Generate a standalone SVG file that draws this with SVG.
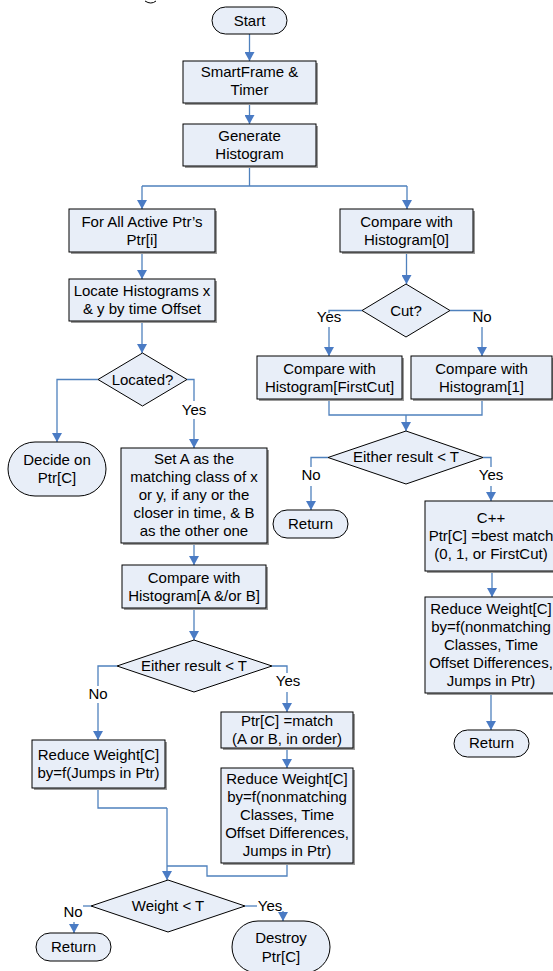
<svg xmlns="http://www.w3.org/2000/svg" width="553" height="971" viewBox="0 0 553 971">
<style>
.b{fill:#e8eef8;stroke:#000;stroke-width:1}
.s{fill:#9a9a9a;stroke:none}
.c{fill:none;stroke:#4f81bd;stroke-width:1.3}
.a{marker-end:url(#ah)}
text{font-family:"Liberation Sans",Arial,sans-serif;font-size:15px;fill:#000;text-anchor:middle}
</style>
<defs>
<marker id="ah" markerUnits="userSpaceOnUse" markerWidth="10" markerHeight="10" refX="9" refY="5" orient="auto">
<path d="M0,0 L9,5 L0,10 z" fill="#4a7bc4"/>
</marker>
</defs>
<rect width="553" height="971" fill="#fff"/>
<path d="M145,1 Q151,5 156,1" fill="none" stroke="#000" stroke-width="1"/>

<g id="connectors">
<path class="c a" d="M249.5,34 V61"/>
<path class="c a" d="M249.5,103 V124"/>
<path class="c" d="M249.5,166 V186 M142,186 H407"/>
<path class="c a" d="M142,186 V209"/>
<path class="c a" d="M407,186 V209"/>
<path class="c a" d="M142,252 V279"/>
<path class="c a" d="M142,321 V353"/>
<path class="c a" d="M98,379.5 H57 V442"/>
<path class="c" d="M187,379.5 H194 V401"/>
<path class="c a" d="M194,419 V448"/>
<path class="c a" d="M194,543 V565"/>
<path class="c a" d="M194,608 V640"/>
<path class="c" d="M117,666 H98 V686"/>
<path class="c a" d="M98,703 V740"/>
<path class="c" d="M272,666 H287 V673"/>
<path class="c a" d="M287,692 V712"/>
<path class="c a" d="M287,748 V768"/>
<path class="c" d="M98,788 V808 H167"/>
<path class="c a" d="M167,808 V880"/>
<path class="c" d="M287,863 V876 H207 V866 H167"/>
<path class="c" d="M91,906 H83"/>
<path class="c a" d="M74,922 V933"/>
<path class="c" d="M245,906 H257"/>
<path class="c a" d="M283,911 V921"/>
<path class="c a" d="M406.5,252 V284"/>
<path class="c" d="M362,310.5 H329 V313"/>
<path class="c a" d="M329,327 V356"/>
<path class="c" d="M450,310.5 H482 V313"/>
<path class="c a" d="M482,327 V356"/>
<path class="c" d="M329,399 V415 H482 V399"/>
<path class="c a" d="M406,415 V431"/>
<path class="c" d="M328,457.5 H311 V467"/>
<path class="c a" d="M311,486 V510"/>
<path class="c" d="M483,457.5 H491 V467"/>
<path class="c a" d="M491,486 V501"/>
<path class="c a" d="M492,571 V597"/>
<path class="c a" d="M491,693 V730"/>
<text x="194" y="415">Yes</text>
<text x="98" y="699">No</text>
<text x="288" y="686">Yes</text>
<text x="73" y="917">No</text>
<text x="270" y="911">Yes</text>
<text x="329" y="322">Yes</text>
<text x="482" y="322">No</text>
<text x="311" y="480">No</text>
<text x="491" y="480">Yes</text>
</g>

<g id="start">
<rect class="b" x="212" y="7" width="75" height="27" rx="13.5"/>
<text x="249.5" y="26">Start</text>
</g>
<g id="smartframe">
<rect class="s" x="185" y="63" width="133" height="42"/>
<rect class="b" x="183" y="61" width="133" height="42"/>
<text x="249.5" y="77">SmartFrame &amp;</text>
<text x="249.5" y="95">Timer</text>
</g>
<g id="generate">
<rect class="s" x="185" y="126" width="133" height="42"/>
<rect class="b" x="183" y="124" width="133" height="42"/>
<text x="249.5" y="141">Generate</text>
<text x="249.5" y="159">Histogram</text>
</g>
<g id="forall">
<rect class="s" x="71" y="211" width="146" height="43"/>
<rect class="b" x="69" y="209" width="146" height="43"/>
<text x="142" y="226.5">For All Active Ptr’s</text>
<text x="142" y="244.5">Ptr[i]</text>
</g>
<g id="locate">
<rect class="s" x="71" y="281" width="146" height="42"/>
<rect class="b" x="69" y="279" width="146" height="42"/>
<text x="142" y="296">Locate Histograms x</text>
<text x="142" y="314">&amp; y by time Offset</text>
</g>
<g id="located">
<polygon class="b" points="142.5,353 187,379.5 142.5,406 98,379.5"/>
<text x="142.5" y="384.5">Located?</text>
</g>
<g id="decide">
<rect class="b" x="8" y="442" width="98" height="54" rx="27"/>
<text x="57" y="465">Decide on</text>
<text x="57" y="483">Ptr[C]</text>
</g>
<g id="setA">
<rect class="s" x="123" y="450" width="146" height="95"/>
<rect class="b" x="121" y="448" width="146" height="95"/>
<text x="194" y="464">Set A as the</text>
<text x="194" y="482">matching class of x</text>
<text x="194" y="500">or y, if any or the</text>
<text x="194" y="518">closer in time, &amp; B</text>
<text x="194" y="536">as the other one</text>
</g>
<g id="compareAB">
<rect class="s" x="124" y="567" width="144" height="43"/>
<rect class="b" x="122" y="565" width="144" height="43"/>
<text x="194" y="582.5">Compare with</text>
<text x="194" y="600.5">Histogram[A &amp;/or B]</text>
</g>
<g id="either1">
<polygon class="b" points="194,640 272,666 194,692 117,666"/>
<text x="194" y="671">Either result &lt; T</text>
</g>
<g id="reduceJumps">
<rect class="s" x="34" y="742" width="133" height="48"/>
<rect class="b" x="32" y="740" width="133" height="48"/>
<text x="98.5" y="760">Reduce Weight[C]</text>
<text x="98.5" y="778">by=f(Jumps in Ptr)</text>
</g>
<g id="match">
<rect class="s" x="223" y="714" width="132" height="36"/>
<rect class="b" x="221" y="712" width="132" height="36"/>
<text x="287" y="726">Ptr[C] =match</text>
<text x="287" y="744">(A or B, in order)</text>
</g>
<g id="reduceMid">
<rect class="s" x="223" y="770" width="132" height="95"/>
<rect class="b" x="221" y="768" width="132" height="95"/>
<text x="287" y="784">Reduce Weight[C]</text>
<text x="287" y="802">by=f(nonmatching</text>
<text x="287" y="820">Classes, Time</text>
<text x="287" y="838">Offset Differences,</text>
<text x="287" y="856">Jumps in Ptr)</text>
</g>
<g id="weight">
<polygon class="b" points="168,880 245,906 168,932 91,906"/>
<text x="168" y="911">Weight &lt; T</text>
</g>
<g id="return1">
<rect class="b" x="36" y="933" width="75" height="28" rx="14"/>
<text x="73.5" y="952">Return</text>
</g>
<g id="destroy">
<rect class="b" x="232" y="921" width="98" height="52" rx="26"/>
<text x="281" y="943">Destroy</text>
<text x="281" y="962">Ptr[C]</text>
</g>
<g id="compare0">
<rect class="s" x="342" y="211" width="133" height="43"/>
<rect class="b" x="340" y="209" width="133" height="43"/>
<text x="406.5" y="226.5">Compare with</text>
<text x="406.5" y="244.5">Histogram[0]</text>
</g>
<g id="cut">
<polygon class="b" points="406,284 450,310.5 406,337 362,310.5"/>
<text x="406" y="316">Cut?</text>
</g>
<g id="compareFirstCut">
<rect class="s" x="259" y="358" width="145" height="43"/>
<rect class="b" x="257" y="356" width="145" height="43"/>
<text x="329.5" y="374">Compare with</text>
<text x="329.5" y="392">Histogram[FirstCut]</text>
</g>
<g id="compare1">
<rect class="s" x="413" y="358" width="141" height="43"/>
<rect class="b" x="411" y="356" width="141" height="43"/>
<text x="481.5" y="374">Compare with</text>
<text x="481.5" y="392">Histogram[1]</text>
</g>
<g id="either2">
<polygon class="b" points="406,431 483,457.5 406,484 328,457.5"/>
<text x="406" y="462">Either result &lt; T</text>
</g>
<g id="return2">
<rect class="b" x="273" y="510" width="75" height="28" rx="14"/>
<text x="310.5" y="529">Return</text>
</g>
<g id="bestmatch">
<rect class="s" x="427" y="503" width="134" height="70"/>
<rect class="b" x="425" y="501" width="134" height="70"/>
<text x="491" y="523">C++</text>
<text x="491" y="541">Ptr[C] =best match</text>
<text x="491" y="559">(0, 1, or FirstCut)</text>
</g>
<g id="reduceRight">
<rect class="s" x="427" y="599" width="134" height="96"/>
<rect class="b" x="425" y="597" width="134" height="96"/>
<text x="491" y="614">Reduce Weight[C]</text>
<text x="491" y="632">by=f(nonmatching</text>
<text x="491" y="650">Classes, Time</text>
<text x="491" y="668">Offset Differences,</text>
<text x="491" y="686">Jumps in Ptr)</text>
</g>
<g id="return3">
<rect class="b" x="454" y="730" width="75" height="27" rx="13.5"/>
<text x="491.5" y="748">Return</text>
</g>
</svg>
